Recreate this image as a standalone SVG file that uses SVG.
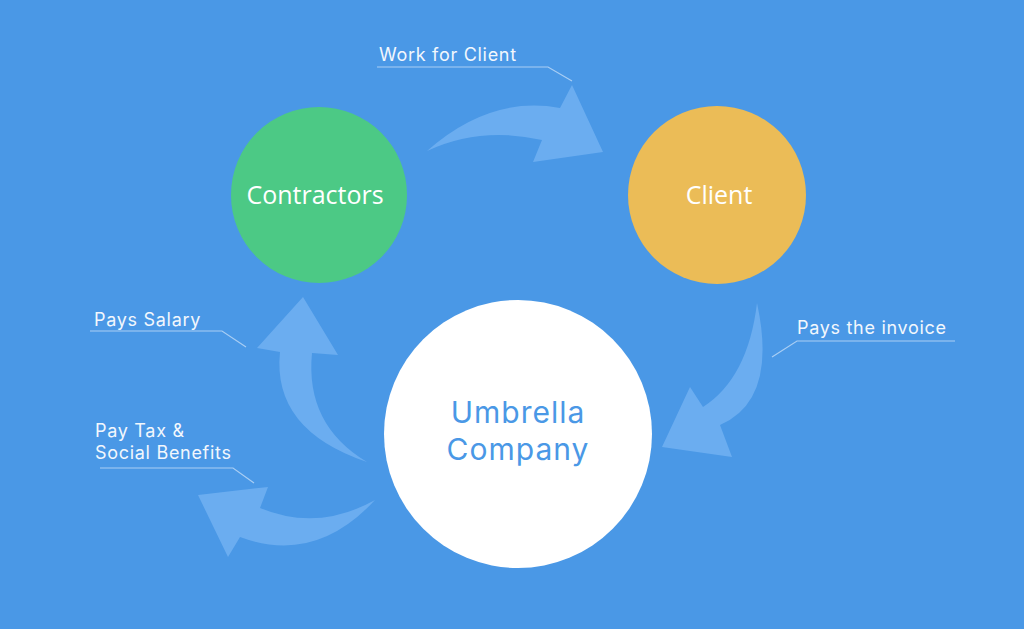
<svg xmlns="http://www.w3.org/2000/svg" width="1024" height="629" viewBox="0 0 1024 629">
<style>
.bg{fill:#4A98E6}
.arrow{fill:#6BADF0}
.lead{fill:none;stroke:#A9CEF4;stroke-width:1.2}
.lbl{font-family:Inter,"Open Sans",sans-serif;font-size:18px;letter-spacing:0.7px;fill:#F2F7FD}
.node-t{font-family:"Open Sans",Inter,sans-serif;font-size:25px;fill:#FFFFFF;text-anchor:middle}
.umb{font-family:Inter,"Open Sans",sans-serif;font-size:30px;letter-spacing:1px;fill:#4A98E6;text-anchor:middle}
</style>
<rect class="bg" x="0" y="0" width="1024" height="629"/>
<g id="connectors">
<path class="arrow" d="M427,151 Q490,95 560,108 L572,85 L603,152 L533,162 L542,140 Q480,126 427,151 Z"/>
<path class="arrow" d="M757,303 Q778,400 720,425 L732,457 L662,447 L690,387 L703,407 Q748,378 757,303 Z"/>
<path class="arrow" d="M367,462 Q305,425 312,353 L338,355 L303,297 L257,348 L280,352 Q272,430 367,462 Z"/>
<path class="arrow" d="M375,500 Q318,532 260,508 L268,487 L198,495 L228,557 L240,537 Q315,565 375,500 Z"/>
<polyline class="lead" points="377,67 548,67 572,81"/>
<polyline class="lead" points="90,331 222,331 246,347"/>
<polyline class="lead" points="100,468 233,468 254,483"/>
<polyline class="lead" points="955,341 797,341 772,357"/>
<text class="lbl" x="379" y="61">Work for Client</text>
<text class="lbl" x="94" y="326">Pays Salary</text>
<text class="lbl" x="95" y="437">Pay Tax &amp;<tspan x="95" y="459">Social Benefits</tspan></text>
<text class="lbl" x="797" y="334">Pays the invoice</text>
</g>
<g id="contractors">
<circle cx="319" cy="195" r="88" fill="#4CC985"/>
<text class="node-t" x="315" y="204">Contractors</text>
</g>
<g id="client">
<circle cx="717" cy="195" r="89" fill="#EBBC57"/>
<text class="node-t" x="719" y="204">Client</text>
</g>
<g id="umbrella">
<circle cx="518" cy="434" r="134" fill="#FFFFFF"/>
<text class="umb" x="518" y="423">Umbrella<tspan x="518" y="460">Company</tspan></text>
</g>
</svg>
